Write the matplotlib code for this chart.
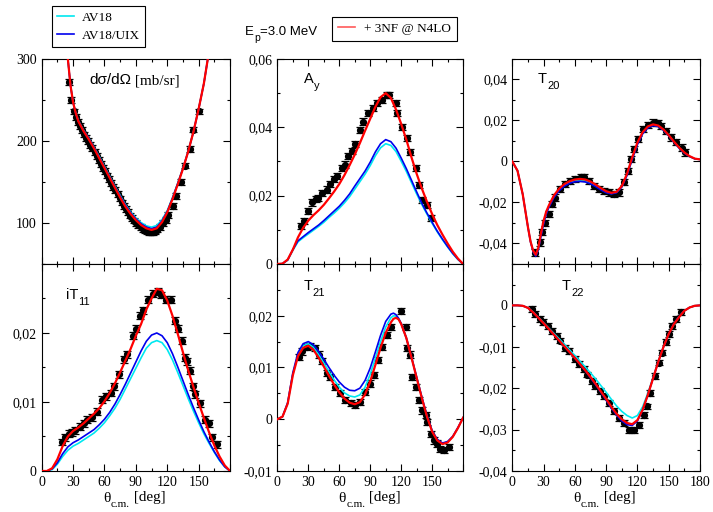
import numpy as np
import matplotlib
matplotlib.use('Agg')
import matplotlib.pyplot as plt
from matplotlib.ticker import MultipleLocator, FixedLocator, FuncFormatter
from matplotlib.lines import Line2D

plt.rcParams['font.family'] = ['Liberation Serif', 'DejaVu Serif']

# ---------------- data ----------------
x5 = [0, 5, 10, 15, 20, 25, 30, 35, 40, 45, 50, 55, 60, 65, 70, 75, 80, 85, 90,
      95, 100, 105, 110, 115, 120, 125, 130, 135, 140, 145, 150, 155, 160, 165,
      170, 175, 180]

# cross section
cs_x = [20, 22.5, 25, 27.5, 30, 32.5, 35, 40, 45, 50, 55, 60, 65, 70, 75, 80, 85, 90,
        95, 100, 105, 110, 115, 120, 125, 130, 135, 140, 145, 150, 155, 160, 165]
cs_red = [390, 340, 300, 268, 247, 234, 224, 212, 202, 191, 179, 167, 155, 143, 131,
          120, 111, 103.5, 97.5, 93.5, 91.5, 93.5, 101, 113, 129, 147, 166, 187, 211,
          239, 270, 310, 352]
cs_blue = [390, 340, 300, 268, 247, 234, 224.5, 212.5, 203, 192, 180, 168, 156, 144,
           132.5, 121.5, 112.5, 105, 99, 95, 93, 95, 102.5, 114, 130, 148, 166.5, 187,
           211, 239, 270, 310, 352]
cs_cyan = [390, 340, 300, 268, 247.5, 234.5, 225, 213, 203.5, 192.5, 181, 169, 157,
           145, 133.5, 122.5, 113.5, 106, 100.5, 96.5, 95, 97, 104, 115, 131, 148.5,
           167, 187.5, 211, 239, 270, 310, 352]
cs_dx = [26.5, 28.4, 31.3, 33.0, 34.5, 36.5, 38.5, 40.5, 42.5, 44.5, 46.5, 48.5, 50.5,
         52.5, 54.5, 56.5, 58.5, 60.5, 62.5, 64.5, 66.5, 68.5, 70.5, 72.5, 74.5, 76.5,
         78.5, 80.5, 82.5, 84.5, 86.5, 88.5, 90.5, 92.5, 94.5, 96.5, 98.5, 100.5, 102.5,
         104.5, 106.5, 108.5, 110.5, 113, 116, 118.5, 121, 125.8, 128, 133, 136.5,
         141.3, 145, 150.6]
cs_dy = [272, 250, 236, 229, 223, 218, 213, 208, 204, 200, 195, 191, 187, 182, 177,
         172, 167, 163, 158, 154, 149, 144, 140, 135, 130, 125, 121, 117, 113, 109, 106,
         103, 100, 97, 95, 93, 91, 90, 89, 89, 89, 90, 92, 95, 100, 104, 110, 121, 133,
         150, 170, 190, 214, 236]

# A_y
ay_red = [0, 0.0001, 0.0013, 0.0042, 0.0078, 0.0106, 0.0127, 0.0143, 0.0157, 0.0173,
          0.0192, 0.0212, 0.0234, 0.0260, 0.0289, 0.0320, 0.0354, 0.0390, 0.0425,
          0.0460, 0.0488, 0.0500, 0.0486, 0.0452, 0.0410, 0.0364, 0.0312, 0.0264,
          0.0221, 0.0182, 0.0146, 0.0114, 0.0086, 0.0060, 0.0036, 0.0016, 0]
ay_blue = [0, 0.0001, 0.0012, 0.0042, 0.0068, 0.0080, 0.0092, 0.0103, 0.0114, 0.0127,
           0.0141, 0.0155, 0.0169, 0.0186, 0.0205, 0.0228, 0.0250, 0.0272, 0.0298,
           0.0328, 0.0352, 0.0364, 0.0358, 0.0339, 0.0310, 0.0279, 0.0245, 0.0211,
           0.0178, 0.0149, 0.0122, 0.0096, 0.0073, 0.0051, 0.0031, 0.0014, 0]
ay_cyan = [0, 0.0001, 0.0011, 0.0040, 0.0065, 0.0077, 0.0088, 0.0099, 0.0110, 0.0122,
           0.0136, 0.0149, 0.0163, 0.0179, 0.0197, 0.0219, 0.0241, 0.0263, 0.0288,
           0.0317, 0.0340, 0.0352, 0.0347, 0.0329, 0.0301, 0.0271, 0.0238, 0.0205,
           0.0174, 0.0146, 0.0119, 0.0094, 0.0071, 0.0050, 0.0030, 0.0013, 0]
ay_dx = [22.6, 25.8, 30.0, 33.2, 37.4, 39.7, 42.9, 47.7, 51.0, 54.8, 57.4, 62.3, 65.5,
         68.7, 71.9, 75.2, 80.0, 83.2, 88.1, 92.9, 96.1, 101.0, 105.8, 108.5, 114.5,
         116.0, 121.0, 126.0, 129.0, 134.0, 137.3, 140.5, 145.3, 148.5]
ay_dy = [0.0112, 0.0126, 0.0155, 0.0180, 0.0189, 0.0194, 0.0209, 0.0218, 0.0233,
         0.0248, 0.0257, 0.0282, 0.0291, 0.0316, 0.0330, 0.0350, 0.0393, 0.0417,
         0.0442, 0.0456, 0.0471, 0.0481, 0.0495, 0.0494, 0.0470, 0.0443, 0.0402,
         0.0368, 0.0329, 0.0280, 0.0231, 0.0187, 0.0173, 0.0134]

# T20
t20_x = [0, 5, 10, 15, 17.5, 20, 22.5, 25, 27.5, 30, 32.5, 35, 40, 45, 50, 55, 60, 65,
         70, 75, 80, 85, 90, 95, 100, 105, 110, 115, 120, 125, 130, 135, 140, 145, 150,
         155, 160, 165, 170, 175, 180]
t20_red = [0, -0.0045, -0.016, -0.032, -0.039, -0.0435, -0.0455, -0.042, -0.035,
           -0.029, -0.0245, -0.0215, -0.0165, -0.0132, -0.0110, -0.0096, -0.0088,
           -0.0085, -0.0088, -0.0098, -0.0113, -0.0130, -0.0145, -0.0153, -0.0148,
           -0.0120, -0.0060, 0.0020, 0.0093, 0.0143, 0.0171, 0.0181, 0.0175, 0.0156,
           0.0128, 0.0097, 0.0068, 0.0044, 0.0026, 0.0014, 0.0010]
t20_blue = [0, -0.0045, -0.016, -0.032, -0.0392, -0.0440, -0.0462, -0.0430, -0.0365,
            -0.0305, -0.0258, -0.0225, -0.0175, -0.0142, -0.0120, -0.0106, -0.0099,
            -0.0097, -0.0100, -0.0109, -0.0123, -0.0139, -0.0152, -0.0158, -0.0152,
            -0.0125, -0.0068, 0.0010, 0.0083, 0.0135, 0.0164, 0.0175, 0.0170, 0.0152,
            0.0125, 0.0094, 0.0065, 0.0041, 0.0024, 0.0013, 0.0010]
t20_cyan = [0, -0.0045, -0.016, -0.032, -0.0391, -0.0438, -0.0458, -0.0425, -0.0358,
            -0.0298, -0.0252, -0.0220, -0.0170, -0.0137, -0.0115, -0.0101, -0.0094,
            -0.0092, -0.0095, -0.0104, -0.0118, -0.0135, -0.0149, -0.0156, -0.0150,
            -0.0122, -0.0064, 0.0015, 0.0088, 0.0139, 0.0168, 0.0178, 0.0172, 0.0154,
            0.0126, 0.0095, 0.0066, 0.0042, 0.0025, 0.0013, 0.0010]
t20_dx = [21.9, 26.8, 28.4, 31.6, 34.8, 38.1, 41.3, 46.1, 51.0, 55.8, 60.6, 65.5, 68.7,
          73.5, 78.4, 83.2, 88.1, 92.9, 97.7, 102.6, 107.4, 110.6, 113.9, 117.1, 120.3,
          125.2, 130.0, 134.8, 139.7, 142.9, 147.7, 152.6, 157.4, 162.3, 165.5]
t20_dy = [-0.0444, -0.0395, -0.0346, -0.0298, -0.0257, -0.0208, -0.0176, -0.0135,
          -0.0111, -0.0094, -0.0086, -0.0078, -0.0075, -0.0094, -0.0119, -0.0135,
          -0.0143, -0.0151, -0.0159, -0.0151, -0.0102, -0.0046, 0.0011, 0.0060, 0.0109,
          0.0158, 0.0177, 0.0190, 0.0187, 0.0174, 0.0150, 0.0117, 0.0093, 0.0068, 0.0044]

# iT11
it_red = [0, 0.0000, 0.0004, 0.0017, 0.0036, 0.0050, 0.0058, 0.0063, 0.0069, 0.0076,
          0.0083, 0.0091, 0.0101, 0.0113, 0.0127, 0.0143, 0.0160, 0.0177, 0.0196,
          0.0213, 0.0234, 0.0250, 0.0264, 0.0262, 0.0247, 0.0225, 0.0199, 0.0172,
          0.0146, 0.0122, 0.0099, 0.0077, 0.0056, 0.0037, 0.0021, 0.0008, 0]
it_blue = [0, 0, 0.0003, 0.0012, 0.0025, 0.0035, 0.0041, 0.0045, 0.0050, 0.0055,
           0.0060, 0.0067, 0.0075, 0.0085, 0.0097, 0.0111, 0.0126, 0.0142, 0.0158,
           0.0174, 0.0188, 0.0197, 0.0200, 0.0196, 0.0186, 0.0170, 0.0151, 0.0131,
           0.0111, 0.0092, 0.0074, 0.0057, 0.0042, 0.0028, 0.0016, 0.0006, 0]
it_cyan = [0, 0, 0.0002, 0.0010, 0.0021, 0.0030, 0.0036, 0.0040, 0.0045, 0.0050,
           0.0055, 0.0062, 0.0070, 0.0080, 0.0091, 0.0104, 0.0119, 0.0134, 0.0149,
           0.0164, 0.0178, 0.0186, 0.0189, 0.0186, 0.0176, 0.0161, 0.0143, 0.0124,
           0.0105, 0.0087, 0.0070, 0.0054, 0.0040, 0.0027, 0.0015, 0.0006, 0]
it_dx = [19.4, 22.6, 25.8, 29.0, 32.0, 37.0, 40.0, 43.5, 48.0, 53.0, 58.0, 61.0, 66.0,
         69.0, 74.0, 79.0, 82.0, 87.0, 90.0, 93.5, 97.0, 101.6, 106.5, 111.0, 114.5,
         119.0, 124.0, 127.0, 130.6, 134.0, 136.5, 138.7, 142.0, 145.0, 146.8, 151.6,
         156.5, 159.7, 163.0, 167.7]
it_dy = [0.0042, 0.0049, 0.0054, 0.0056, 0.0059, 0.0064, 0.0069, 0.0074, 0.0078,
         0.0086, 0.0103, 0.0108, 0.0113, 0.0123, 0.0140, 0.0162, 0.0169, 0.0196, 0.0206,
         0.0225, 0.0233, 0.0248, 0.0257, 0.0260, 0.0255, 0.0248, 0.0248, 0.0218, 0.0206,
         0.0189, 0.0164, 0.0159, 0.0145, 0.0123, 0.0111, 0.0098, 0.0074, 0.0069, 0.0049,
         0.0039]

# T21
t21_x = [0, 5, 10, 15, 20, 25, 30, 35, 40, 45, 50, 55, 60, 65, 70, 75, 80, 85, 90, 95,
         100, 105, 110, 112.5, 115, 117.5, 120, 125, 130, 135, 140, 145, 150, 155, 160,
         165, 170, 175, 180]
t21_red = [0, 0.0005, 0.0030, 0.0085, 0.0122, 0.0138, 0.0142, 0.0134, 0.0119, 0.0102,
           0.0084, 0.0067, 0.0052, 0.0040, 0.0032, 0.0029, 0.0033, 0.0048, 0.0073,
           0.0105, 0.0138, 0.0167, 0.0187, 0.0194, 0.0196, 0.0193, 0.0184, 0.0157,
           0.0119, 0.0080, 0.0041, 0.0005, -0.0024, -0.0041, -0.0048, -0.0045,
           -0.0034, -0.0017, 0.0003]
t21_blue = [0, 0.0005, 0.0032, 0.0090, 0.0129, 0.0146, 0.0150, 0.0144, 0.0131, 0.0116,
            0.0100, 0.0085, 0.0072, 0.0062, 0.0056, 0.0055, 0.0060, 0.0075, 0.0099,
            0.0130, 0.0162, 0.0189, 0.0203, 0.0205, 0.0202, 0.0195, 0.0185, 0.0157,
            0.0120, 0.0081, 0.0043, 0.0007, -0.0022, -0.0039, -0.0046, -0.0043,
            -0.0033, -0.0016, 0.0003]
t21_cyan = [0, 0.0005, 0.0031, 0.0087, 0.0125, 0.0142, 0.0146, 0.0139, 0.0125, 0.0109,
            0.0092, 0.0076, 0.0062, 0.0051, 0.0045, 0.0043, 0.0047, 0.0062, 0.0087,
            0.0118, 0.0150, 0.0178, 0.0196, 0.0200, 0.0199, 0.0194, 0.0185, 0.0157,
            0.0120, 0.0081, 0.0042, 0.0006, -0.0023, -0.0040, -0.0047, -0.0044,
            -0.0034, -0.0017, 0.0003]
t21_dx = [20.5, 23.7, 28.6, 31.8, 36.7, 40.0, 43.0, 48.0, 51.0, 56.0, 61.0, 66.0, 71.0,
          75.6, 80.5, 85.0, 90.0, 93.5, 98.0, 101.6, 106.5, 110.0, 119.5, 124.2, 125.9,
          128.5, 130.7, 134.0, 137.2, 140.5, 143.7, 145.5, 148.7, 152.0, 155.0, 158.0,
          161.7, 166.0]
t21_dy = [0.0121, 0.0131, 0.0140, 0.0141, 0.0138, 0.0125, 0.0112, 0.0089, 0.0082,
          0.0063, 0.0050, 0.0037, 0.0031, 0.0027, 0.0034, 0.0053, 0.0069, 0.0086, 0.0115,
          0.0140, 0.0163, 0.0178, 0.0209, 0.0179, 0.0137, 0.0125, 0.0082, 0.0062, 0.0037,
          0.0017, 0.0008, -0.0005, -0.0028, -0.0041, -0.0047, -0.0057, -0.0060, -0.0054]

# T22
t22_red = [0, 0, -0.0001, -0.0006, -0.0017, -0.0030, -0.0043, -0.0057, -0.0071,
           -0.0085, -0.0099, -0.0113, -0.0127, -0.0142, -0.0157, -0.0173, -0.0190,
           -0.0208, -0.0226, -0.0245, -0.0262, -0.0275, -0.0284, -0.0287, -0.0277,
           -0.0252, -0.0216, -0.0176, -0.0136, -0.0100, -0.0069, -0.0045, -0.0028,
           -0.0013, -0.0005, -0.0001, 0]
t22_blue = [0, 0, -0.0001, -0.0006, -0.0017, -0.0030, -0.0043, -0.0057, -0.0071,
            -0.0085, -0.0099, -0.0113, -0.0127, -0.0143, -0.0158, -0.0175, -0.0192,
            -0.0210, -0.0229, -0.0248, -0.0265, -0.0279, -0.0288, -0.0290, -0.0279,
            -0.0253, -0.0216, -0.0176, -0.0136, -0.0100, -0.0069, -0.0044, -0.0027,
            -0.0013, -0.0005, -0.0001, 0]
t22_cyan = [0, 0, -0.0001, -0.0006, -0.0016, -0.0029, -0.0042, -0.0055, -0.0068,
            -0.0081, -0.0094, -0.0108, -0.0121, -0.0135, -0.0149, -0.0163, -0.0178,
            -0.0194, -0.0210, -0.0227, -0.0243, -0.0256, -0.0266, -0.0272, -0.0266,
            -0.0245, -0.0212, -0.0174, -0.0135, -0.0100, -0.0069, -0.0045, -0.0027,
            -0.0013, -0.0005, -0.0001, 0]
t22_dx = [18.6, 21.8, 26.6, 29.8, 34.6, 37.9, 42.7, 45.9, 50.7, 53.9, 60.3, 63.5, 68.3,
          71.5, 76.4, 79.6, 84.4, 87.6, 92.4, 97.2, 102.0, 106.8, 111.6, 116.5, 121.3,
          126.0, 129.3, 132.5, 137.3, 140.5, 143.7, 147.0, 150.0, 153.4, 156.6, 161.4]
t22_dy = [-0.0008, -0.0020, -0.0033, -0.0041, -0.0049, -0.0061, -0.0073, -0.0085,
          -0.0102, -0.0110, -0.0130, -0.0142, -0.0154, -0.0167, -0.0183, -0.0195,
          -0.0207, -0.0220, -0.0236, -0.0256, -0.0272, -0.0285, -0.0301, -0.0301,
          -0.0289, -0.0264, -0.0244, -0.0211, -0.0171, -0.0138, -0.0114, -0.0089,
          -0.0069, -0.0049, -0.0033, -0.0016]

err_cs, err_ay, err_t20, err_it, err_t21, err_t22 = 3.5, 0.0009, 0.0015, 0.0005, 0.0006, 0.0007

x_ticks = [0, 30, 60, 90, 120, 150, 180]

# ---------------- figure ----------------
fig = plt.figure(figsize=(7.13, 5.12), dpi=100)
overlay = fig.add_axes([0, 0, 1, 1])
overlay.set_axis_off()

col_x = [0.0585, 0.389, 0.7185]
col_w = [0.2641, 0.2605, 0.2633]
row_y = [0.4844, 0.0801]
row_h = [0.4004, 0.4043]

SANS = 'Liberation Sans'
SERIF = 'Liberation Serif'


def comma_fmt(v, pos):
    if abs(v) < 1e-12:
        return '0'
    return ('%.2f' % v).replace('.', ',')


def int_fmt(v, pos):
    return '%d' % v


def sub_label(ax, x, y, main, sub, rest='', family=SANS, fs=10.5, sfs=8, drop=-3.5):
    t1 = ax.text(x, y, main, transform=ax.transAxes, fontsize=fs, family=family,
                 va='bottom', ha='left')
    t2 = ax.annotate(sub, xy=(1, 0), xycoords=t1, xytext=(0.3, drop),
                     textcoords='offset points', fontsize=sfs, family=family,
                     va='bottom', ha='left')
    if rest:
        ax.annotate(rest, xy=(1, 0), xycoords=t2, xytext=(0, -drop + 0.5),
                    textcoords='offset points', fontsize=fs, family=family,
                    va='bottom', ha='left')
    return t1


panels = [
    (0, 0, cs_x, cs_red, cs_blue, cs_cyan, cs_dx, cs_dy, err_cs, (50, 300), [100, 200, 300], 50, int_fmt),
    (0, 1, x5, ay_red, ay_blue, ay_cyan, ay_dx, ay_dy, err_ay, (0, 0.06), [0, 0.02, 0.04, 0.06], 0.01, comma_fmt),
    (0, 2, t20_x, t20_red, t20_blue, t20_cyan, t20_dx, t20_dy, err_t20, (-0.05, 0.05), [-0.04, -0.02, 0, 0.02, 0.04], 0.01, comma_fmt),
    (1, 0, x5, it_red, it_blue, it_cyan, it_dx, it_dy, err_it, (0, 0.03), [0, 0.01, 0.02], 0.005, comma_fmt),
    (1, 1, t21_x, t21_red, t21_blue, t21_cyan, t21_dx, t21_dy, err_t21, (-0.01, 0.03), [-0.01, 0, 0.01, 0.02], 0.005, comma_fmt),
    (1, 2, x5, t22_red, t22_blue, t22_cyan, t22_dx, t22_dy, err_t22, (-0.04, 0.01), [-0.04, -0.03, -0.02, -0.01, 0], 0.005, comma_fmt),
]

labels = [
    (0.251, 0.862, None, None),
    (0.144, 0.866, 'A', 'y'),
    (0.137, 0.866, 'T', '20'),
    (0.127, 0.818, 'iT', '11'),
    (0.140, 0.858, 'T', '21'),
    (0.263, 0.858, 'T', '22'),
]
xlab_x = [0.326, 0.330, 0.325]

for (r, c, xs, red, blue, cyan, dx, dy, err, ylim, yt, mnr, fmt), (lx, ly, lm, ls) in zip(panels, labels):
    ax = fig.add_axes([col_x[c], row_y[r], col_w[c], row_h[r]])
    ax.errorbar(dx, dy, yerr=err, fmt='o', color='black', ms=4.2, elinewidth=0.9,
                capsize=3.2, capthick=0.9, zorder=3)
    ax.plot(xs, cyan, color='#00e8f0', lw=1.2, zorder=4)
    ax.plot(xs, blue, color='#0000ee', lw=1.2, zorder=5)
    ax.plot(xs, red, color='#ff0000', lw=1.6, zorder=6)
    ax.set_xlim(0, 180)
    ax.set_ylim(*ylim)
    ax.xaxis.set_major_locator(FixedLocator(x_ticks))
    ax.xaxis.set_minor_locator(MultipleLocator(15))
    ax.yaxis.set_major_locator(FixedLocator(yt))
    ax.yaxis.set_minor_locator(MultipleLocator(mnr))
    ax.yaxis.set_major_formatter(FuncFormatter(fmt))
    ax.tick_params(which='both', direction='in', top=True, right=True, labelsize=10)
    ax.tick_params(which='major', length=5, width=0.8)
    ax.tick_params(which='minor', length=2.5, width=0.8)
    for s in ax.spines.values():
        s.set_linewidth(0.8)
    if r == 0:
        ax.tick_params(labelbottom=False)
    else:
        if c < 2:
            ax.xaxis.set_major_formatter(FuncFormatter(lambda v, p: '' if v >= 180 else '%d' % v))
        else:
            ax.xaxis.set_major_formatter(FuncFormatter(lambda v, p: '%d' % v))
        sub_label(ax, xlab_x[c], -0.163, 'θ', 'c.m.', ' [deg]', family=SERIF,
                  fs=11, sfs=8, drop=-3.0)
    if lm is None:
        t1 = ax.text(lx, ly, 'dσ/dΩ', transform=ax.transAxes, fontsize=11,
                     family=SANS, va='bottom', ha='left')
        ax.annotate(' [mb/sr]', xy=(1, 0), xycoords=t1, fontsize=11,
                    family=SERIF, va='bottom', ha='left')
    else:
        sub_label(ax, lx, ly, lm, ls)

# legends and title
h_cyan = Line2D([], [], color='#00e8f0', lw=1.2)
h_blue = Line2D([], [], color='#0000ee', lw=1.2)
h_red = Line2D([], [], color='#ff5a5a', lw=1.2)
leg1 = fig.legend([h_cyan, h_blue], ['AV18', 'AV18/UIX'], loc='upper left',
                  bbox_to_anchor=(0.0729, 0.988), frameon=True, fancybox=False,
                  edgecolor='black', framealpha=1, handlelength=1.25, handletextpad=0.6,
                  borderpad=0.4, labelspacing=0.45, borderaxespad=0,
                  prop=dict(family=SERIF, size=9.5))
leg1.get_frame().set_linewidth(0.8)
leg2 = fig.legend([h_red], ['+ 3NF @ N4LO'], loc='upper left',
                  bbox_to_anchor=(0.4656, 0.967), frameon=True, fancybox=False,
                  edgecolor='black', framealpha=1, handlelength=1.3, handletextpad=0.7,
                  borderpad=0.45, borderaxespad=0,
                  prop=dict(family=SERIF, size=9.5))
leg2.get_frame().set_linewidth(0.8)
sub_label(overlay, 0.344, 0.925, 'E', 'p', '=3.0 MeV', family=SANS, fs=9.5, sfs=7.5,
          drop=-3.5)

fig.savefig('out.png', dpi=100)
